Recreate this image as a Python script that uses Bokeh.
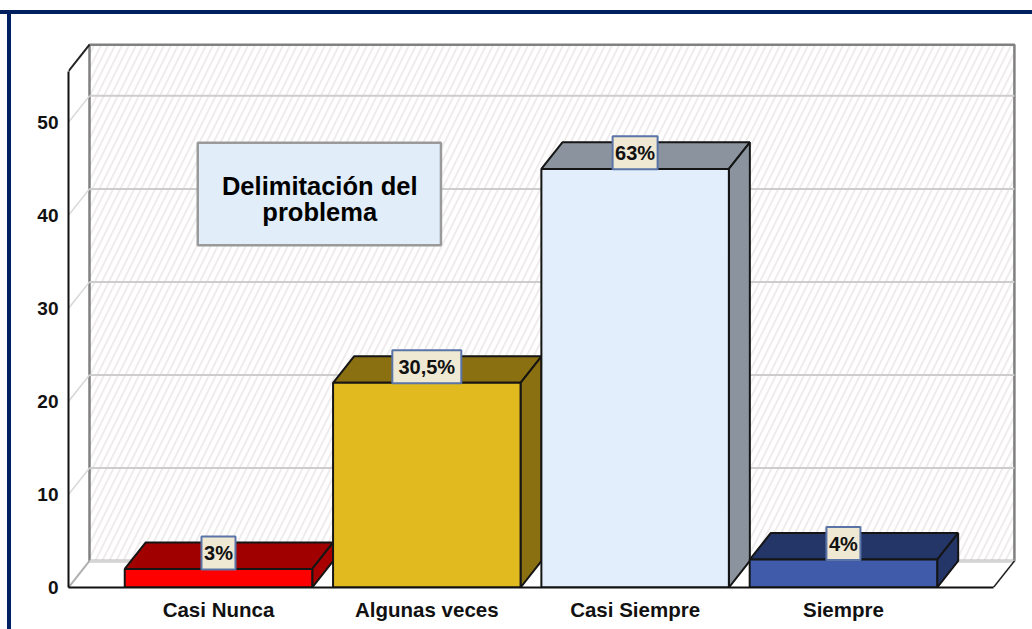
from bokeh.plotting import figure
from bokeh.models import FixedTicker, Label
from bokeh.core.properties import value
from bokeh.embed import file_html
from bokeh.resources import INLINE

categories = ["Casi Nunca", "Algunas veces", "Casi Siempre", "Siempre"]
counts = [2, 22, 45, 3]
percent_labels = ["3%", "30,5%", "63%", "4%"]
y_ticks = [0, 10, 20, 30, 40, 50]
title_lines = ["Delimitación del", "problema"]

front_colors = ["#ff0000", "#e0ba1e", "#e2eefb", "#3f5ba9"]
top_colors = ["#a00000", "#8a7010", "#8b949e", "#243568"]
side_colors = ["#a80000", "#8a7010", "#8b949e", "#243568"]
label_box_widths = [34, 69, 45, 34]

X0, X1, Y1 = -0.72, 3.72, 55.5
DX, DY, BW = 0.1008, 2.85, 0.9
pos = list(range(len(categories)))

navy = "linear-gradient(#002060,#002060)"
p = figure(width=1032, height=629, output_backend="svg", toolbar_location=None,
           x_range=(-0.72, 3.85), y_range=(0, 58.8),
           min_border_left=68, min_border_right=12, min_border_top=40, min_border_bottom=42,
           background_fill_color=None, border_fill_color=None,
           styles={"background": f"{navy} 0 10px/100% 4px no-repeat, {navy} 7px 10px/4px 100% no-repeat"})
p.outline_line_color = None
p.grid.visible = False

# back wall with hatch
p.quad(left=[X0 + DX], right=[X1 + DX], bottom=[DY], top=[Y1 + DY], fill_color="white",
       hatch_pattern="right_diagonal_line", hatch_color="#f0ecec", hatch_alpha=1.0,
       hatch_scale=14, hatch_weight=2, line_color="#808080", line_width=2.5)
# floor edge of the wall
p.line([X0 + DX, X1 + DX], [DY, DY], line_color="#d4d4d4", line_width=2.5)
# left wall and floor edges
p.line([X0, X0 + DX], [0, DY], line_color="#b0b0b0", line_width=2)
p.line([X1, X1 + DX], [0, DY], line_color="#222222", line_width=1.5)
p.line([X0, X0 + DX], [Y1, Y1 + DY], line_color="#222222", line_width=2)

# gridlines
grid_ticks = y_ticks[1:]
p.multi_line([[X0 + DX, X1 + DX] for _ in grid_ticks], [[v + DY, v + DY] for v in grid_ticks],
             line_color="#cdcdcd", line_width=2)
p.multi_line([[X0, X0 + DX] for _ in grid_ticks], [[v, v + DY] for v in grid_ticks],
             line_color="#d8d8d8", line_width=1.5)

# bars
L = [x - BW / 2 for x in pos]
R = [x + BW / 2 for x in pos]
p.patches([[l, l + DX, r + DX, r] for l, r in zip(L, R)],
          [[v, v + DY, v + DY, v] for v in counts],
          fill_color=top_colors, line_color="#151515", line_width=2)
p.patches([[r, r + DX, r + DX, r] for r in R],
          [[0, DY, v + DY, v] for v in counts],
          fill_color=side_colors, line_color="#151515", line_width=2)
p.quad(left=L, right=R, bottom=[0] * 4, top=counts, fill_color=front_colors,
       line_color="#151515", line_width=2)

# value labels
p.rect(x=pos, y=[v + 16 / 9.3 for v in counts], width=label_box_widths, height=[33] * 4,
       width_units="screen", height_units="screen",
       fill_color="#efe9d4", line_color="#5a74a8", line_width=2)
p.text(x=pos, y=[v + 16 / 9.3 for v in counts], text=percent_labels, text_align="center",
       text_baseline="middle", text_font=value("Liberation Sans"),
       text_font_style="bold", text_font_size="20px", text_color="#111111")

# title box (data space of the figure)
p.quad(left=[-0.0995], right=[1.068], bottom=[36.8], top=[47.8], fill_color="#e1edf9",
       line_color="#9a9a9a", line_width=2.5)
for line, yy in zip(title_lines, [43.2, 40.4]):
    p.add_layout(Label(x=0.486, y=yy, text=line, text_align="center", text_baseline="middle",
                       text_font="Liberation Sans", text_font_style="bold",
                       text_font_size="25.5px", text_color="#000000"))

# axes
xa = p.xaxis[0]
xa.ticker = FixedTicker(ticks=pos)
xa.major_label_overrides = {i: c for i, c in zip(pos, categories)}
xa.bounds = (X0, X1)
xa.axis_line_color = "#111111"
xa.axis_line_width = 2
xa.major_tick_line_color = None
xa.minor_tick_line_color = None
xa.major_tick_out = 0
xa.major_tick_in = 0
xa.major_label_standoff = 10
xa.major_label_text_font = "Liberation Sans"
xa.major_label_text_font_style = "bold"
xa.major_label_text_font_size = "20.5px"
xa.major_label_text_color = "#111111"

ya = p.yaxis[0]
ya.ticker = FixedTicker(ticks=y_ticks)
ya.bounds = (0, Y1)
ya.axis_line_color = "#111111"
ya.axis_line_width = 2
ya.major_tick_line_color = None
ya.minor_tick_line_color = None
ya.major_tick_out = 0
ya.major_tick_in = 0
ya.major_label_standoff = 10
ya.major_label_text_font = "Liberation Sans"
ya.major_label_text_font_style = "bold"
ya.major_label_text_font_size = "19px"
ya.major_label_text_color = "#111111"

open("out.html", "w").write(file_html(p, INLINE))
